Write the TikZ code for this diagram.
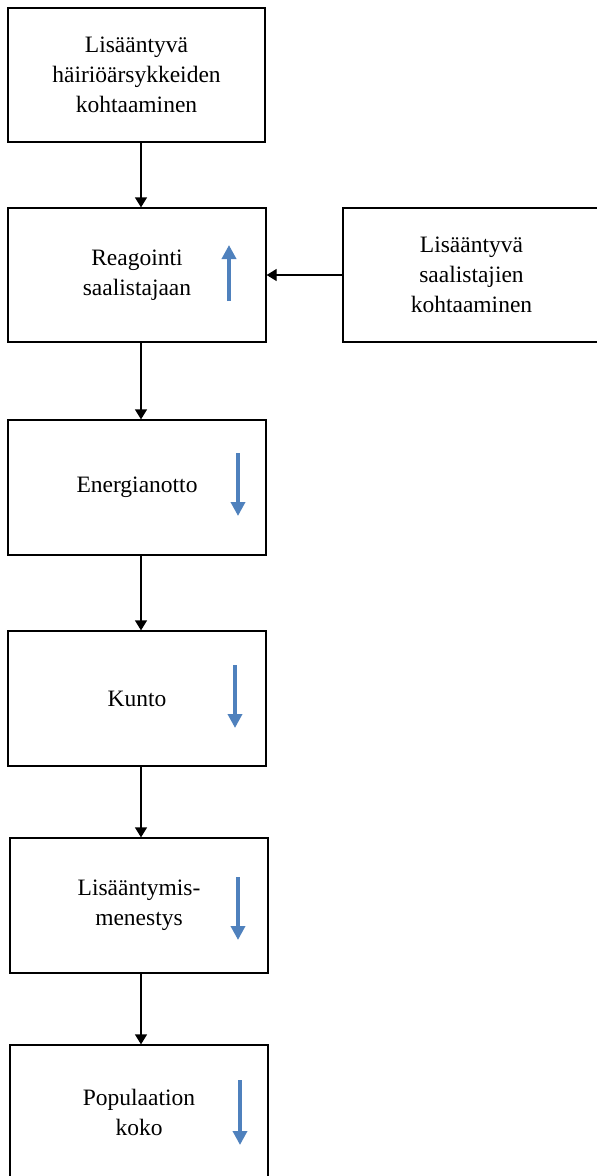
\documentclass[tikz,border=0pt]{standalone}
\usepackage{fontspec}
\setmainfont{Liberation Serif}
\usetikzlibrary{arrows.meta}
\definecolor{arrowblue}{RGB}{79,129,189}
\tikzset{
  box/.style={draw=black, line width=1.3pt, minimum width=258pt, minimum height=134pt,
    align=center, font=\fontsize{23.5}{30}\selectfont, inner sep=0pt},
  conn/.style={line width=1.3pt, -{Triangle[width=12pt,length=10pt]}},
  trend/.style={draw=arrowblue, line width=3.8pt, -{Triangle[width=14pt,length=14pt]}}
}
\begin{document}
\begin{tikzpicture}[x=1pt,y=-1pt]
\useasboundingbox (0,0) rectangle (597,1176);
\clip (0,0) rectangle (597,1176);
\node[box, minimum width=257pt] (b1) at (136.5,75) {Lisääntyvä\\häiriöärsykkeiden\\kohtaaminen};
\node[box] (b2) at (137,275) {Reagointi\\saalistajaan};
\node[box, minimum width=257pt] (r) at (471.5,275) {Lisääntyvä\\saalistajien\\kohtaaminen};
\node[box, minimum height=135pt] (b3) at (137,487.5) {Energianotto};
\node[box, minimum height=135pt] (b4) at (137,698.5) {Kunto};
\node[box, minimum height=135pt] (b5) at (139,905.5) {Lisääntymis-\\menestys};
\node[box] (b6) at (139,1112) {Populaation\\koko};
\coordinate (cx) at (141,0);
\draw[conn] (b1.south -| cx) -- (b2.north -| cx);
\draw[conn] (r.west) -- (b2.east);
\draw[conn] (b2.south -| cx) -- (b3.north -| cx);
\draw[conn] (b3.south -| cx) -- (b4.north -| cx);
\draw[conn] (b4.south -| cx) -- (b5.north -| cx);
\draw[conn] (b5.south -| cx) -- (b6.north -| cx);
\draw[trend] (229,301) -- (229,245);
\draw[trend] (238,453) -- (238,516);
\draw[trend] (235,665) -- (235,728);
\draw[trend] (238,877) -- (238,940);
\draw[trend] (240,1080) -- (240,1145);
\end{tikzpicture}
\end{document}
